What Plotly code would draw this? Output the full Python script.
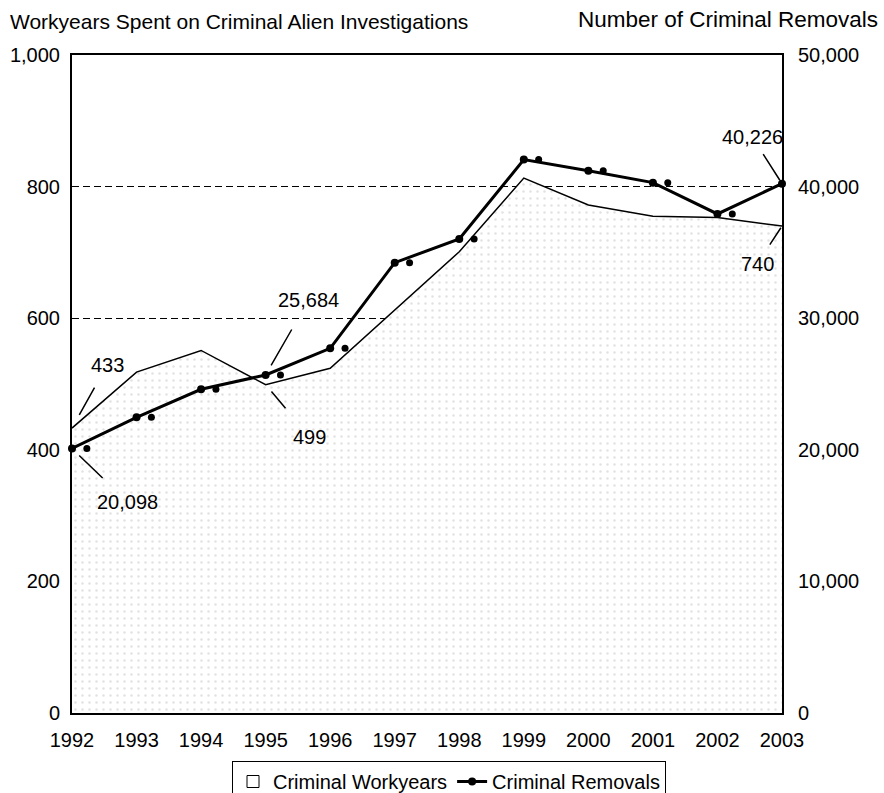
import plotly.graph_objects as go

years = [1992, 1993, 1994, 1995, 1996, 1997, 1998, 1999, 2000, 2001, 2002, 2003]
workyears = [433, 518, 551, 499, 524, 612, 701, 813, 772, 755, 753, 740]
removals = [20098, 22470, 24600, 25684, 27710, 34220, 36020, 42050, 41210, 40300, 37920, 40226]

left_ticks = [0, 200, 400, 600, 800, 1000]
right_ticks = [0, 10000, 20000, 30000, 40000, 50000]

left_title = "Workyears Spent on Criminal Alien Investigations"
right_title = "Number of Criminal Removals"
name_work = "Criminal Workyears"
name_rem = "Criminal Removals"

FONT = "Liberation Sans, Arial, sans-serif"
ghost_shift = 0.23

fig = go.Figure()

fig.add_trace(go.Scatter(
    x=years, y=workyears, name=name_work, mode="lines",
    line=dict(color="black", width=1.5),
    fill="tozeroy",
    fillpattern=dict(shape=".", bgcolor="white", fgcolor="#c4c4c4", size=7, solidity=0.1),
    yaxis="y", showlegend=False,
))

# legend entry for the workyears area (open square like the original)
fig.add_trace(go.Scatter(
    x=[None], y=[None], name=name_work, mode="markers",
    marker=dict(symbol="square-open", color="black", size=12, line=dict(width=1)),
    yaxis="y",
))

fig.add_trace(go.Scatter(
    x=years, y=removals, name=name_rem, mode="lines+markers",
    line=dict(color="black", width=3),
    marker=dict(color="black", size=8),
    yaxis="y2", cliponaxis=False,
))

fig.add_trace(go.Scatter(
    x=[y + ghost_shift for y in years], y=removals, mode="markers",
    marker=dict(color="black", size=7), showlegend=False, hoverinfo="skip",
    yaxis="y2", cliponaxis=False,
))

def ann(x, y, text, ax, ay, yref, pad, standoff):
    return dict(x=x, y=y, xref="x", yref=yref, text=text, showarrow=True,
                arrowhead=0, arrowwidth=1.5, arrowcolor="black", ax=ax, ay=ay,
                borderpad=pad, standoff=standoff,
                font=dict(family=FONT, size=20, color="black"))

annotations = [
    ann(years[0], workyears[0], f"{workyears[0]:,}", 35, -63, "y", 11, 15),
    ann(years[0], removals[0], f"{removals[0]:,}", 55, 53, "y2", 12, 10),
    ann(years[3], workyears[3], f"{workyears[3]:,}", 44, 52, "y", 17, 9),
    ann(years[3], removals[3], f"{removals[3]:,}", 43, -75, "y2", 18, 11),
    ann(years[-1], removals[-1], f"{removals[-1]:,}", -30, -47, "y2", 6, 4),
    ann(years[-1], workyears[-1], f"{workyears[-1]:,}", -25, 38, "y", 8, 2),
    dict(text=left_title, xref="paper", yref="paper", x=(8 - 72) / 710, y=(713 - 22) / 658,
         xanchor="left", yanchor="middle", showarrow=False,
         font=dict(family=FONT, size=21, color="black")),
    dict(text=right_title, xref="paper", yref="paper", x=(880 - 72) / 710, y=(713 - 19) / 658,
         xanchor="right", yanchor="middle", showarrow=False,
         font=dict(family=FONT, size=22.5, color="black")),
]

fig.update_layout(
    width=884, height=793,
    margin=dict(l=72, r=102, t=55, b=80, autoexpand=False),
    paper_bgcolor="white", plot_bgcolor="white",
    font=dict(family=FONT, size=20, color="black"),
    showlegend=True,
    legend=dict(orientation="h", x=(232 - 72) / 710, xanchor="left",
                y=-48 / 658, yanchor="top", bordercolor="black", borderwidth=1,
                bgcolor="white", font=dict(family=FONT, size=20, color="black"),
                itemwidth=30, traceorder="normal"),
    annotations=annotations,
    xaxis=dict(range=[years[0], years[-1]], tickvals=years, ticktext=[str(y) for y in years],
               showline=True, linecolor="black", linewidth=2, mirror=True,
               showgrid=False, zeroline=False, ticks="", ticklabelstandoff=8,
               tickfont=dict(family=FONT, size=20, color="black")),
    yaxis=dict(range=[0, 1000], tickvals=left_ticks, tickformat=",",
               showline=True, linecolor="black", linewidth=2,
               showgrid=True, gridcolor="black", gridwidth=1, griddash="7px,4px",
               zeroline=False, ticks="", ticklabelstandoff=6,
               tickfont=dict(family=FONT, size=20, color="black")),
    yaxis2=dict(range=[0, 50000], tickvals=right_ticks, tickformat=",",
                overlaying="y", side="right",
                showline=True, linecolor="black", linewidth=2,
                showgrid=False, zeroline=False, ticks="", ticklabelstandoff=10,
                tickfont=dict(family=FONT, size=20, color="black")),
)

fig.write_html("out.html", config={"displayModeBar": False},
               post_script="document.body.style.margin='0';document.body.style.overflow='hidden';")
